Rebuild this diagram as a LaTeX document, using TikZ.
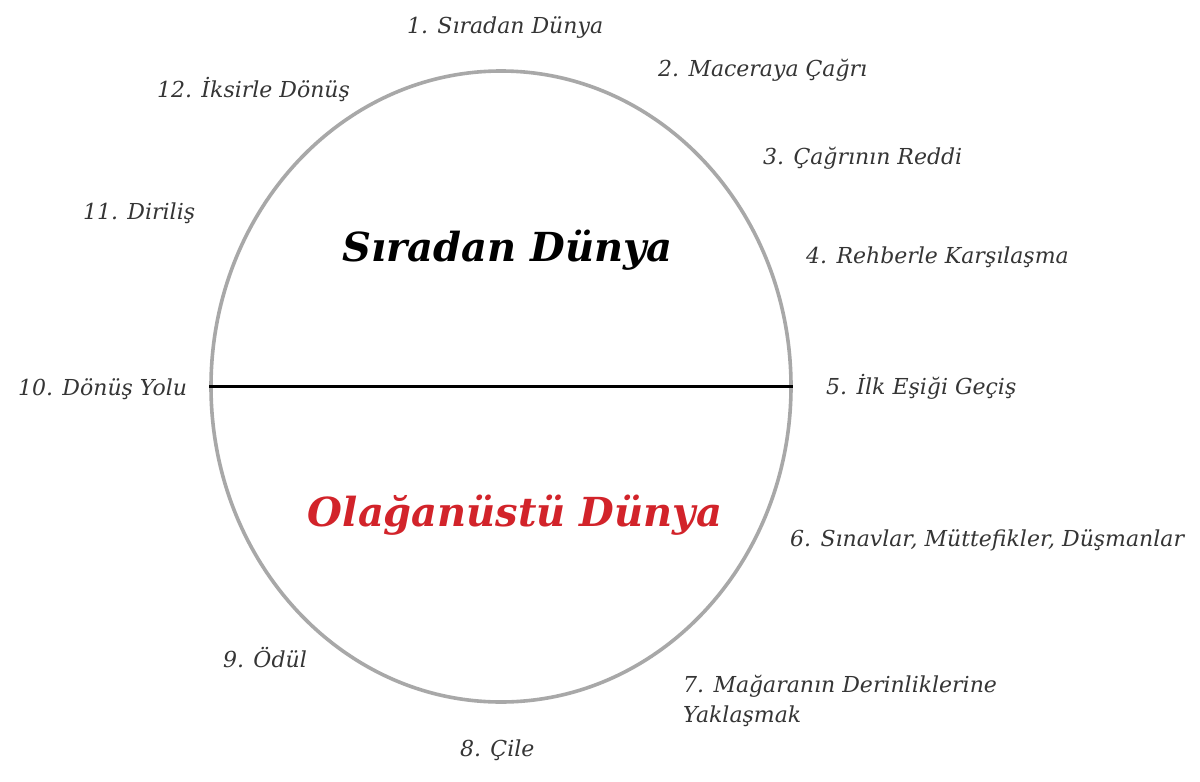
\documentclass[tikz,border=0pt]{standalone}
\usepackage{fontspec}
\setmainfont{DejaVu Serif}
\usetikzlibrary{shapes.geometric}
\definecolor{ringgray}{HTML}{A8A8A8}
\definecolor{labelgray}{HTML}{353535}
\definecolor{worldred}{HTML}{D2232A}
\tikzset{
  stage/.style={anchor=west, inner sep=0pt, text=labelgray, font=\fontsize{22}{30}\selectfont\itshape},
  world/.style={inner sep=0pt, font=\fontsize{40}{46}\selectfont\bfseries\itshape},
}
\begin{document}
\begin{tikzpicture}[x=1pt,y=-1pt]
\useasboundingbox[fill=white] (0,0) rectangle (1200,782);
\node[ellipse, draw=ringgray, line width=3.6pt, minimum width=580pt, minimum height=631pt, inner sep=0pt] (ring) at (501,386.5) {};
\draw[line width=3.4pt, black] (ring.west) -- (ring.east);
\node[world, text=black] (ord) at (507.5,250) {Sıradan Dünya};
\node[world, text=worldred] (ext) at (515,515) {Olağanüstü Dünya};
\node[stage] (s1) at (407,28) {1. Sıradan Dünya};
\node[stage] (s2) at (658,70) {2. Maceraya Çağrı};
\node[stage] (s3) at (763,158) {3. Çağrının Reddi};
\node[stage] (s4) at (806,257) {4. Rehberle Karşılaşma};
\node[stage] (s5) at (826,387) {5. İlk Eşiği Geçiş};
\node[stage] (s6) at (790,540) {6. Sınavlar, Müttefikler, Düşmanlar};
\node[stage, align=left] (s7) at (683,701) {7. Mağaranın Derinliklerine\\Yaklaşmak};
\node[stage] (s8) at (460,750) {8. Çile};
\node[stage] (s9) at (223,658) {9. Ödül};
\node[stage] (s10) at (18,389) {10. Dönüş Yolu};
\node[stage] (s11) at (83,213) {11. Diriliş};
\node[stage] (s12) at (157,89) {12. İksirle Dönüş};
\end{tikzpicture}
\end{document}
